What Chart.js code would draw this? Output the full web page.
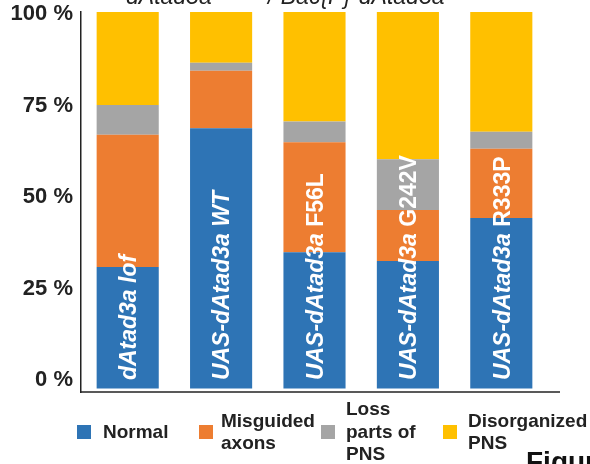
<!DOCTYPE html>
<html>
<head>
<meta charset="utf-8">
<script src="https://cdn.jsdelivr.net/npm/chart.js@4.4.1/dist/chart.umd.min.js"></script>
<style>
  html, body { margin:0; padding:0; background:#fff; overflow:hidden; }
  #wrap { position:relative; width:590px; height:464px; overflow:hidden; }
  #c { position:absolute; left:0; top:0; }
  .hdr { position:absolute; font:italic 23px "Liberation Sans", Arial, sans-serif; color:#222; line-height:23px; white-space:nowrap; }
  #legend { position:absolute; left:77px; top:398px; height:68px; display:flex; align-items:center; }
  .li { width:122px; display:flex; align-items:center; }
  .box { width:14px; height:14px; flex:none; margin-right:10px; }
  .lt { font:bold 19px "Liberation Sans", Arial, sans-serif; color:#222; line-height:22.5px; white-space:nowrap; }
  #fig { position:absolute; left:526px; top:448px; font:bold 28px "Liberation Sans", Arial, sans-serif; color:#111; line-height:28px; white-space:nowrap; }
</style>
</head>
<body>
<div id="wrap">
  <canvas id="c" width="590" height="464"></canvas>
  <div class="hdr" style="left:126px; top:-15px;">dAtad3a</div>
  <div class="hdr" style="left:268px; top:-15px;">/ Bac{P}-dAtad3a</div>
  <div id="legend"></div>
  <div id="fig">Figure</div>
</div>
<script>
// ---- data ----
const categories = ["dAtad3a lof", "UAS-dAtad3a WT", "UAS-dAtad3a F56L", "UAS-dAtad3a G242V", "UAS-dAtad3a R333P"];
const barLabelMain = ["dAtad3a", "UAS-dAtad3a", "UAS-dAtad3a", "UAS-dAtad3a", "UAS-dAtad3a"];
const barLabelSuffix = ["lof", "WT", "F56L", "G242V", "R333P"];
const suffixItalic = [true, true, false, false, false];

const seriesNames = ["Normal", "Misguided axons", "Loss parts of PNS", "Disorganized PNS"];
const legendLines = [["Normal"], ["Misguided", "axons"], ["Loss", "parts of", "PNS"], ["Disorganized", "PNS"]];
const normal       = [32.3, 69.1, 36.2, 33.9, 45.3];
const misguided    = [35.1, 15.3, 29.2, 13.5, 18.4];
const lossParts    = [7.9, 2.1, 5.5, 13.5, 4.5];
const disorganized = [24.7, 13.5, 29.1, 39.1, 31.8];
const seriesColors = ["#2E74B5", "#ED7D31", "#A5A5A5", "#FFC000"];

const tickValues = [0, 25, 50, 75, 100];
// ---------------

const FONT = '"Liberation Sans", Arial, sans-serif';

const barTextPlugin = {
  id: 'barText',
  afterDatasetsDraw(chart) {
    const ctx = chart.ctx;
    const xs = chart.scales.x, ys = chart.scales.y;
    ctx.save();
    ctx.fillStyle = '#ffffff';
    ctx.textBaseline = 'alphabetic';
    ctx.textAlign = 'left';
    const size = 23;
    categories.forEach((c, i) => {
      const x = xs.getPixelForValue(i);
      const y = ys.getPixelForValue(0) - 8.5;
      ctx.save();
      ctx.translate(x, y);
      ctx.rotate(-Math.PI / 2);
      ctx.font = 'italic bold ' + size + 'px ' + FONT;
      const main = barLabelMain[i] + ' ';
      ctx.fillText(main, 0, size * 0.358);
      const w = ctx.measureText(main).width;
      ctx.font = (suffixItalic[i] ? 'italic ' : '') + 'bold ' + size + 'px ' + FONT;
      ctx.fillText(barLabelSuffix[i], w, size * 0.358);
      ctx.restore();
    });
    ctx.restore();
  }
};

const xAxisLinePlugin = {
  id: 'xAxisLine',
  afterDraw(chart) {
    const ctx = chart.ctx, a = chart.chartArea;
    ctx.save();
    ctx.strokeStyle = '#222';
    ctx.lineWidth = 1.5;
    ctx.beginPath();
    ctx.moveTo(a.left - 0.75, a.bottom);
    ctx.lineTo(a.right + 12, a.bottom);
    ctx.stroke();
    ctx.restore();
  }
};

const seriesData = [normal, misguided, lossParts, disorganized];

const chart = new Chart(document.getElementById('c'), {
  type: 'bar',
  data: {
    labels: categories,
    datasets: seriesNames.map((n, k) => ({
      label: n,
      data: seriesData[k],
      backgroundColor: seriesColors[k],
      borderWidth: 0,
      categoryPercentage: 1,
      barPercentage: 0.665
    }))
  },
  options: {
    responsive: false,
    animation: false,
    devicePixelRatio: 1,
    layout: { padding: { top: 12, right: 42, bottom: 72, left: 0 } },
    plugins: { legend: { display: false }, tooltip: { enabled: false }, title: { display: false } },
    scales: {
      x: { stacked: true, display: false },
      y: { stacked: true, display: false, min: -0.9, max: 100 },
      yTicks: {
        position: 'left',
        min: -3.28, max: 100.55,
        afterBuildTicks(scale) { scale.ticks = tickValues.map(v => ({ value: v })); },
        afterFit(scale) { scale.width = 81; scale.paddingTop = 0; scale.paddingBottom = 0; },
        grid: { display: false, drawTicks: false },
        border: { display: true, color: '#222', width: 1.5 },
        ticks: {
          padding: 8,
          color: '#222',
          font: { family: FONT, size: 22, weight: 'bold' },
          callback: v => v + ' %'
        }
      }
    }
  },
  plugins: [barTextPlugin, xAxisLinePlugin]
});

// HTML legend built from the chart's datasets
const legend = document.getElementById('legend');
chart.data.datasets.forEach((ds, k) => {
  const li = document.createElement('div');
  li.className = 'li';
  const box = document.createElement('div');
  box.className = 'box';
  box.style.background = ds.backgroundColor;
  if (k === 0) box.style.marginRight = '12px';
  if (k === 1) box.style.marginRight = '8px';
  if (k >= 2) box.style.marginRight = '11px';
  const t = document.createElement('div');
  t.className = 'lt';
  t.innerHTML = legendLines[k].map(s => s.replace(/&/g, '&amp;').replace(/</g, '&lt;')).join('<br>');
  li.appendChild(box);
  li.appendChild(t);
  legend.appendChild(li);
});
</script>
</body>
</html>
